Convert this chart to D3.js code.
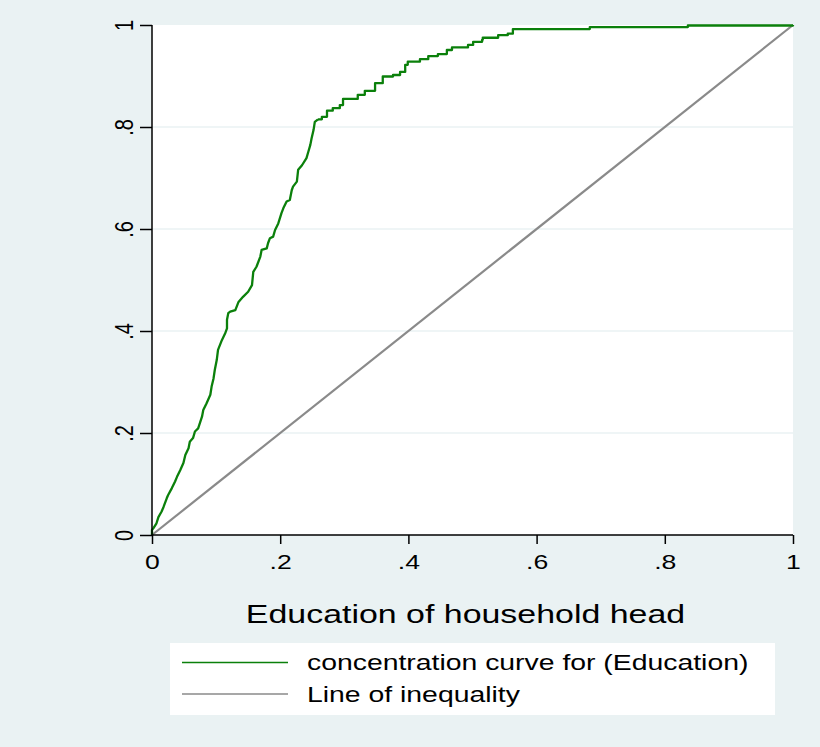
<!DOCTYPE html>
<html>
<head>
<meta charset="utf-8">
<script src="https://cdn.jsdelivr.net/npm/d3@7"></script>
<style>
  body { margin: 0; background: #eaf2f3; }
  svg { display: block; font-family: "Liberation Sans", Arial, sans-serif; }
</style>
</head>
<body>
<div id="chart"></div>
<script>
// cumulative share of population (ranked)
var curveX = [0, 0, 0.002, 0.007, 0.010, 0.015, 0.018, 0.023, 0.025, 0.031, 0.036, 0.039, 0.044, 0.049,
  0.052, 0.057, 0.059, 0.064, 0.067, 0.072, 0.078, 0.080, 0.085, 0.091, 0.093, 0.096, 0.098, 0.101,
  0.103, 0.109, 0.114, 0.117, 0.117, 0.119, 0.122, 0.130, 0.135, 0.142, 0.150, 0.156, 0.158, 0.163,
  0.169, 0.171, 0.179, 0.181, 0.184, 0.189, 0.192, 0.197, 0.202, 0.205, 0.210, 0.215, 0.218, 0.220,
  0.226, 0.228, 0.234, 0.241, 0.244, 0.247, 0.249, 0.252, 0.254, 0.259,
  0.265, 0.273, 0.282, 0.293, 0.298, 0.321, 0.332, 0.348, 0.360, 0.376, 0.387, 0.395, 0.399, 0.418,
  0.431, 0.446, 0.460, 0.468, 0.493, 0.501, 0.515, 0.516, 0.540, 0.555, 0.563, 0.683, 0.836, 1];
// cumulative share of education
var curveY = [0, 0.010, 0.013, 0.023, 0.035, 0.046, 0.055, 0.072, 0.078, 0.092, 0.105, 0.114, 0.127, 0.141,
  0.157, 0.170, 0.183, 0.190, 0.203, 0.209, 0.232, 0.245, 0.258, 0.275, 0.291, 0.307, 0.324, 0.343,
  0.363, 0.382, 0.395, 0.405, 0.422, 0.435, 0.438, 0.441, 0.457, 0.467, 0.477, 0.490, 0.516, 0.526,
  0.546, 0.559, 0.562, 0.572, 0.582, 0.585, 0.598, 0.611, 0.631, 0.641, 0.654, 0.657, 0.676, 0.683,
  0.693, 0.716, 0.725, 0.739, 0.752, 0.765, 0.778, 0.794, 0.810, 0.815,
  0.820, 0.832, 0.837, 0.843, 0.855, 0.863, 0.871, 0.886, 0.899, 0.902, 0.908, 0.922, 0.928, 0.933,
  0.939, 0.943, 0.951, 0.956, 0.961, 0.967, 0.971, 0.975, 0.980, 0.983, 0.992, 0.996, 0.999, 1];
var equalityX = [0, 1];
var equalityY = [0, 1];
var xTicks = [0, 0.2, 0.4, 0.6, 0.8, 1];
var yTicks = [0, 0.2, 0.4, 0.6, 0.8, 1];
var gridTicks = [0.2, 0.4, 0.6, 0.8];
var seriesNames = ["concentration curve for (Education)", "Line of inequality"];
var seriesColors = ["#0b800b", "#8a8a8a"];
var xTitle = "Education of household head";

var svgWidth = 820;
var svgHeight = 747;

// text in the original export is stretched sideways
var stretch = 1.33;

// plot region
var margin = { top: 25, bottom: 212, right: 27, left: 152 };
var width = svgWidth - margin.left - margin.right;
var height = svgHeight - margin.top - margin.bottom;

var svg = d3.select("#chart")
    .append("svg")
    .attr("width", svgWidth)
    .attr("height", svgHeight);

svg.append("rect")
    .attr("width", svgWidth)
    .attr("height", svgHeight)
    .attr("fill", "#eaf2f3");

var chartGroup = svg.append("g")
    .attr("transform", `translate(${margin.left}, ${margin.top})`);

chartGroup.append("rect")
    .attr("width", width)
    .attr("height", height)
    .attr("fill", "#ffffff");

var xScale = d3.scaleLinear().domain([0, 1]).range([0, width]);
var yScale = d3.scaleLinear().domain([0, 1]).range([height, 0]);

var fmt = function (d) {
    if (d === 0 || d === 1) return String(d);
    return String(d).replace(/^0/, "");
};

// horizontal grid lines
chartGroup.selectAll(".grid")
    .data(gridTicks)
    .enter()
    .append("line")
    .attr("x1", 0)
    .attr("x2", width)
    .attr("y1", d => yScale(d))
    .attr("y2", d => yScale(d))
    .attr("stroke", "#eaf2f3")
    .attr("stroke-width", 1.5);

// line of inequality
var eqData = equalityX.map((x, i) => [x, equalityY[i]]);
chartGroup.append("path")
    .datum(eqData)
    .attr("fill", "none")
    .attr("stroke", seriesColors[1])
    .attr("stroke-width", 2.2)
    .attr("d", d3.line().x(d => xScale(d[0])).y(d => yScale(d[1])));

// concentration curve: steep part is dense (drawn straight), flat part shows clear steps
var ccData = curveX.map((x, i) => [x, curveY[i]]);
var split = 65;
chartGroup.append("path")
    .datum(ccData.slice(0, split + 1))
    .attr("fill", "none")
    .attr("stroke", seriesColors[0])
    .attr("stroke-width", 2.3)
    .attr("stroke-linejoin", "round")
    .attr("d", d3.line().x(d => xScale(d[0])).y(d => yScale(d[1])));
chartGroup.append("path")
    .datum(ccData.slice(split))
    .attr("fill", "none")
    .attr("stroke", seriesColors[0])
    .attr("stroke-width", 2.3)
    .attr("stroke-linejoin", "round")
    .attr("d", d3.line().curve(d3.curveStepAfter).x(d => xScale(d[0])).y(d => yScale(d[1])));

// axes
var bottomAxis = d3.axisBottom(xScale).tickValues(xTicks).tickFormat(fmt).tickSize(9).tickPadding(11);
var leftAxis = d3.axisLeft(yScale).tickValues(yTicks).tickFormat(fmt).tickSize(12).tickPadding(0);

var xAxis = chartGroup.append("g")
    .attr("transform", `translate(0, ${height})`)
    .call(bottomAxis);
xAxis.select(".domain").attr("d", `M0,0H${width}`).attr("stroke-width", 1.5);
xAxis.selectAll(".tick line").attr("stroke-width", 1.5);
xAxis.selectAll("text")
    .attr("font-size", 20)
    .attr("fill", "#000")
    .attr("transform", `scale(${stretch}, 1)`);

var yAxis = chartGroup.append("g").call(leftAxis);
yAxis.select(".domain").attr("d", `M0,0V${height}`).attr("stroke-width", 1.5);
yAxis.selectAll(".tick line").attr("stroke-width", 1.5);
yAxis.selectAll("text")
    .attr("font-size", 20)
    .attr("fill", "#000")
    .attr("text-anchor", "middle")
    .attr("dy", "0.36em")
    .attr("x", null)
    .attr("y", null)
    .attr("transform", `translate(-29, 0) rotate(-90) scale(1, ${stretch})`);

// x title
chartGroup.append("text")
    .attr("transform", `translate(${width / 2 - 7}, ${height + 88}) scale(${stretch}, 1)`)
    .attr("text-anchor", "middle")
    .attr("font-size", 25.5)
    .attr("fill", "#000")
    .text(xTitle);

// legend
var legend = svg.append("g").attr("transform", "translate(170, 643)");
legend.append("rect")
    .attr("width", 605)
    .attr("height", 72)
    .attr("fill", "#ffffff");

var legendItems = legend.selectAll(".item")
    .data(seriesNames)
    .enter()
    .append("g")
    .attr("transform", (d, i) => `translate(0, ${19.5 + i * 31.6})`);

legendItems.append("line")
    .attr("x1", 12)
    .attr("x2", 118)
    .attr("stroke", (d, i) => seriesColors[i])
    .attr("stroke-width", 1.5);

legendItems.append("text")
    .attr("transform", `translate(137, 0) scale(1.29, 1)`)
    .attr("dy", "0.36em")
    .attr("font-size", 22)
    .attr("fill", "#000")
    .text(d => d);
</script>
</body>
</html>
